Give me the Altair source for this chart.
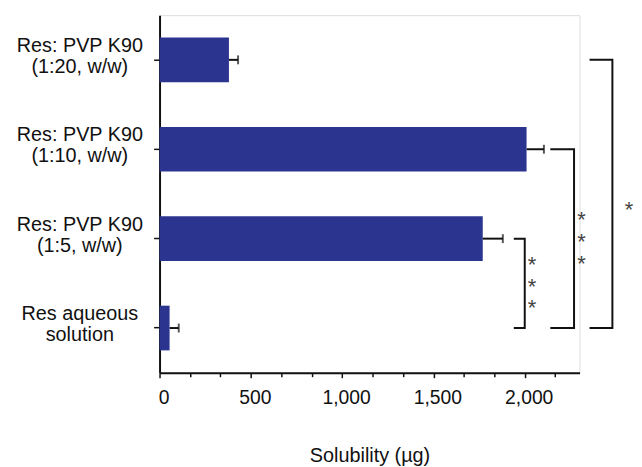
import altair as alt
import pandas as pd

# ---- data ----
categories = ["Res: PVP K90|(1:20, w/w)", "Res: PVP K90|(1:10, w/w)",
              "Res: PVP K90|(1:5, w/w)", "Res aqueous|solution"]
solubility = [380, 2010, 1770, 55]
sd = [50, 95, 110, 50]

major_ticks = [0, 500, 1000, 1500, 2000]
minor_step = 500 / 3

# significance brackets: top category index, bottom category index, arm start, arm end
br_top = [2, 1, 0]
br_bottom = [3, 3, 3]
br_x_start = [1940, 2140, 2355]
br_x_end = [2000, 2270, 2480]
star_x = [2040, 2311, 2571]
star_first = [2.25, 1.75, 1.64]
star_count = [3, 3, 1]

BAR = "#2b3590"
INK = "#111111"
FONT = "Liberation Sans"

df = pd.DataFrame({"cat": categories, "val": solubility,
                   "hi": [v + e for v, e in zip(solubility, sd)]})

minor_ticks = [round(i * minor_step, 3) for i in range(14) if i % 3 != 0]

xscale = alt.Scale(domain=[0, 2300], nice=False, zero=True)
yband = alt.Scale(domain=categories, paddingInner=0.5, paddingOuter=0.25)

x_axis = alt.Axis(values=major_ticks, format=",.0f", orient="bottom",
                  title="Solubility (µg)", grid=False, domainColor=INK, domainWidth=2,
                  tickColor=INK, tickWidth=1.5, tickSize=5, labelFont=FONT, labelFontSize=19.5,
                  labelColor=INK, labelPadding=11, labelOverlap=False, labelFlush=False,
                  labelOffset=4,
                  titleFont=FONT, titleFontSize=20,
                  titleFontWeight="normal", titleColor=INK, titlePadding=39)

x_minor_axis = alt.Axis(values=minor_ticks, labels=False, domain=False, grid=False, title=None,
                        orient="bottom", tickColor=INK, tickWidth=1.5, tickSize=4)

y_axis = alt.Axis(title=None, grid=False, domainColor=INK, domainWidth=2, tickColor=INK,
                  tickWidth=1.5, tickSize=6, labelExpr="split(datum.label, '|')",
                  labelAlign="center", labelPadding=75, labelFont=FONT, labelFontSize=20,
                  labelColor=INK, labelLineHeight=21, labelBaseline="middle", labelLimit=300,
                  labelOffset=-14)

base = alt.Chart(df)
bars = base.mark_bar(color=BAR).encode(
    x=alt.X("val:Q", scale=xscale, axis=x_axis),
    y=alt.Y("cat:N", scale=yband, axis=y_axis, sort=categories),
)
err = base.mark_rule(color=INK, strokeWidth=2).encode(
    x="val:Q", x2="hi:Q", y=alt.Y("cat:N", sort=categories))
caps = base.mark_tick(color=INK, thickness=2, size=9).encode(
    x="hi:Q", y=alt.Y("cat:N", sort=categories))

# bracket vertices
rows = []
for b in range(len(br_top)):
    pts = [(br_x_start[b], br_top[b]), (br_x_end[b], br_top[b]),
           (br_x_end[b], br_bottom[b]), (br_x_start[b], br_bottom[b])]
    for k, (xv, yv) in enumerate(pts):
        rows.append({"b": b, "o": k, "x": xv, "y": yv})
bdf = pd.DataFrame(rows)

sdf = pd.DataFrame({"x": star_x, "y": star_first,
                    "t": ["\n".join(["*"] * n) for n in star_count]})

yq = alt.Scale(domain=[-0.5, 3.5], reverse=True, nice=False, zero=False)
brackets = alt.Chart(bdf).mark_line(color=INK, strokeWidth=2, clip=False).encode(
    x=alt.X("x:Q", axis=x_minor_axis), y=alt.Y("y:Q", scale=yq, axis=None),
    detail="b:N", order="o:Q")
stars = alt.Chart(sdf).mark_text(font=FONT, fontSize=22, color="#444444", baseline="middle",
                                 lineBreak="\n", lineHeight=22, dy=4, clip=False).encode(
    x=alt.X("x:Q", axis=x_minor_axis), y=alt.Y("y:Q", scale=yq, axis=None), text="t:N")

chart = alt.layer(
    alt.layer(bars, err, caps),
    alt.layer(brackets, stars),
).resolve_scale(y="independent").resolve_axis(x="independent").properties(
    width=424, height=361,
    autosize=alt.AutoSizeParams(type="none"),
    padding={"left": 153, "top": 5, "right": 55, "bottom": 98},
).configure_view(stroke=None).configure(background="white")

chart.save("out.html", embed_options={"renderer": "svg", "actions": False})
